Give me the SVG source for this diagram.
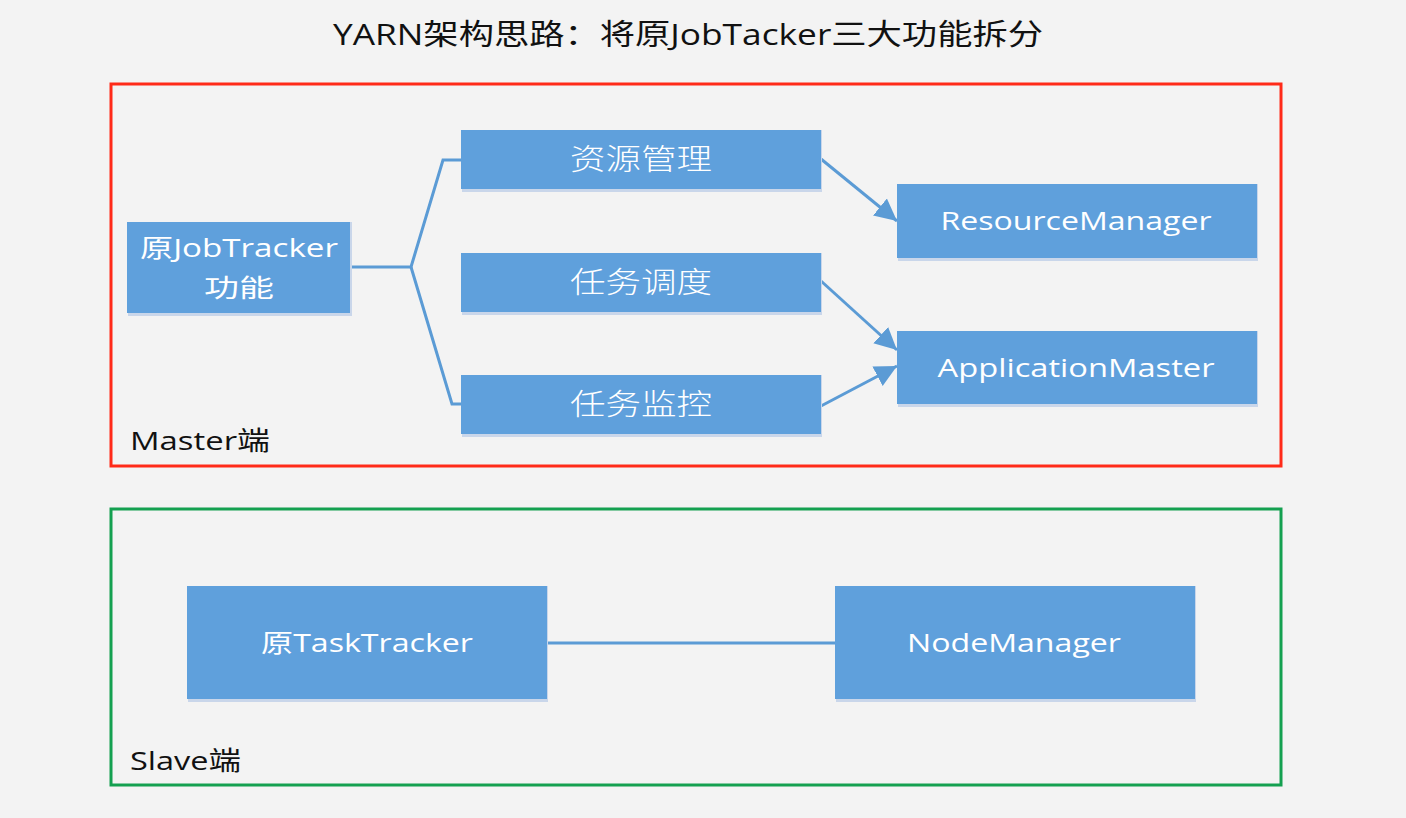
<svg xmlns="http://www.w3.org/2000/svg" width="1406" height="818" viewBox="0 0 1406 818">
<defs>
<style>
.node{fill:#5fa0dc;}
.shadow{fill:#c9d6ea;}
.lbl{fill:#ffffff;font-family:"Open Sans","Noto Sans CJK SC",sans-serif;font-size:25px;text-anchor:middle;}
.cjk{fill:#ffffff;font-family:"Noto Sans CJK SC",sans-serif;font-size:29px;font-weight:300;text-anchor:middle;}
.conn{stroke:#5b9bd5;stroke-width:3;fill:none;}
.dark{fill:#111111;font-family:"Open Sans","Noto Sans CJK SC",sans-serif;}
</style>
<marker id="arr" markerUnits="userSpaceOnUse" markerWidth="24" markerHeight="24" viewBox="0 0 24 24" refX="22" refY="12" orient="auto">
<path d="M0,1 L22,12 L0,23 Z" fill="#5b9bd5"/>
</marker>
</defs>
<rect width="1406" height="818" fill="#f3f3f3"/>
<text class="dark" x="333" y="45" font-size="29" textLength="710" lengthAdjust="spacingAndGlyphs">YARN架构思路：将原JobTacker三大功能拆分</text>

<g id="master-frame">
<rect x="111" y="84" width="1170" height="382" fill="none" stroke="#ff2a18" stroke-width="3"/>
<text class="dark" x="130" y="450" font-size="26" textLength="140" lengthAdjust="spacingAndGlyphs">Master端</text>
</g>
<g id="slave-frame">
<rect x="111" y="509" width="1170" height="276" fill="none" stroke="#14a050" stroke-width="3"/>
<text class="dark" x="130" y="770" font-size="26" textLength="111" lengthAdjust="spacingAndGlyphs">Slave端</text>
</g>

<g id="connectors">
<polyline class="conn" points="350,267 411,267 443,160 461,160"/>
<polyline class="conn" points="411,267 452,404 461,404"/>
<line class="conn" x1="821" y1="159" x2="897" y2="221" marker-end="url(#arr)"/>
<line class="conn" x1="821" y1="281" x2="897" y2="350" marker-end="url(#arr)"/>
<line class="conn" x1="821" y1="406" x2="897" y2="366" marker-end="url(#arr)"/>
<line class="conn" x1="547" y1="643" x2="835" y2="643"/>
</g>

<g id="node-jobtracker">
<rect class="shadow" x="128" y="222" width="224" height="94"/>
<rect class="node" x="127" y="222" width="223" height="91"/>
<text class="lbl" x="239" y="257" font-size="27" textLength="198" lengthAdjust="spacingAndGlyphs">原JobTracker</text>
<text class="lbl" x="239" y="297" font-size="29" textLength="70" lengthAdjust="spacingAndGlyphs">功能</text>
</g>
<g id="node-res">
<rect class="shadow" x="462" y="130" width="360" height="62"/>
<rect class="node" x="461" y="130" width="360" height="59"/>
<text class="cjk" x="641" y="170" textLength="142" lengthAdjust="spacingAndGlyphs">资源管理</text>
</g>
<g id="node-sched">
<rect class="shadow" x="462" y="253" width="360" height="62"/>
<rect class="node" x="461" y="253" width="360" height="59"/>
<text class="cjk" x="641" y="293" textLength="142" lengthAdjust="spacingAndGlyphs">任务调度</text>
</g>
<g id="node-mon">
<rect class="shadow" x="462" y="375" width="360" height="62"/>
<rect class="node" x="461" y="375" width="360" height="59"/>
<text class="cjk" x="641" y="415" textLength="142" lengthAdjust="spacingAndGlyphs">任务监控</text>
</g>
<g id="node-rm">
<rect class="shadow" x="898" y="184" width="360" height="77"/>
<rect class="node" x="897" y="184" width="360" height="74"/>
<text class="lbl" x="1076" y="230" textLength="271" lengthAdjust="spacingAndGlyphs">ResourceManager</text>
</g>
<g id="node-am">
<rect class="shadow" x="898" y="331" width="360" height="76"/>
<rect class="node" x="897" y="331" width="360" height="73"/>
<text class="lbl" x="1076" y="377" textLength="277" lengthAdjust="spacingAndGlyphs">ApplicationMaster</text>
</g>
<g id="node-tt">
<rect class="shadow" x="188" y="586" width="360" height="116"/>
<rect class="node" x="187" y="586" width="360" height="113"/>
<text class="lbl" x="367" y="652" textLength="212" lengthAdjust="spacingAndGlyphs">原TaskTracker</text>
</g>
<g id="node-nm">
<rect class="shadow" x="836" y="586" width="360" height="116"/>
<rect class="node" x="835" y="586" width="360" height="113"/>
<text class="lbl" x="1014" y="652" textLength="214" lengthAdjust="spacingAndGlyphs">NodeManager</text>
</g>
</svg>
